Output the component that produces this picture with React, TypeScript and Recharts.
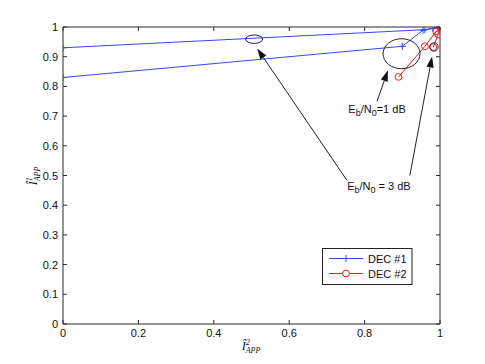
import React from 'react';
import {
  LineChart, Line, XAxis, YAxis, ReferenceLine, ReferenceDot,
} from 'recharts';

// EXIT trajectories (x = I2_APP, y = I1_APP)
const DEC1_1DB_X = [0, 0.9, 0.955, 1];
const DEC1_1DB_Y = [0.83, 0.935, 0.989, 1];
const DEC1_3DB_X = [0, 0.96, 0.981, 1];
const DEC1_3DB_Y = [0.93, 0.991, 0.995, 1];
const DEC2_1DB_X = [0.89, 0.96, 0.99, 1];
const DEC2_1DB_Y = [0.832, 0.935, 0.985, 1];
const DEC2_3DB_X = [0.982, 0.995, 1];
const DEC2_3DB_Y = [0.932, 0.975, 1];

const X_TICKS = [0, 0.2, 0.4, 0.6, 0.8, 1];
const Y_TICKS = [0, 0.1, 0.2, 0.3, 0.4, 0.5, 0.6, 0.7, 0.8, 0.9, 1];

const LEGEND_NAMES = ['DEC #1', 'DEC #2'];

const BLUE = '#2f4aff';
const RED = '#ff1a1a';
const AXIS = '#2b2b2b';
const FONT = '"Liberation Sans", Arial, sans-serif';
const SERIF = '"Liberation Serif", "Times New Roman", serif';

const toPoints = (xs: number[], ys: number[]) => xs.map((x, i) => ({ x, y: ys[i] }));

const plus = (p: any) => (
  <g key={`p-${p.index}`}>
    <line x1={p.cx - 3.5} y1={p.cy} x2={p.cx + 3.5} y2={p.cy} stroke={BLUE} strokeWidth={1} />
    <line x1={p.cx} y1={p.cy - 3.5} x2={p.cx} y2={p.cy + 3.5} stroke={BLUE} strokeWidth={1} />
  </g>
);

const ring = (p: any) => (
  <circle key={`o-${p.index}`} cx={p.cx} cy={p.cy} r={3.4} fill="none" stroke={RED} strokeWidth={1} />
);

const fmt = (v: number) => (v === 0 || v === 1 ? String(v) : v.toFixed(1));

const BottomTick = (p: any) => (
  <g>
    <line x1={p.x} y1={p.y} x2={p.x} y2={p.y - 4} stroke={AXIS} />
    <text x={p.x} y={p.y + 13} textAnchor="middle" fontSize={11} fontFamily={FONT} fill="#111">
      {fmt(p.payload.value)}
    </text>
  </g>
);
const LeftTick = (p: any) => (
  <g>
    <line x1={p.x} y1={p.y} x2={p.x + 4} y2={p.y} stroke={AXIS} />
    <text x={p.x - 5} y={p.y + 4} textAnchor="end" fontSize={11} fontFamily={FONT} fill="#111">
      {fmt(p.payload.value)}
    </text>
  </g>
);
const TopTick = (p: any) => <line x1={p.x} y1={p.y} x2={p.x} y2={p.y + 4} stroke={AXIS} />;
const RightTick = (p: any) => <line x1={p.x} y1={p.y} x2={p.x - 4} y2={p.y} stroke={AXIS} />;

// annotations: ellipses, arrows and the Eb/N0 notes
const ELLIPSES = [
  { x: 0.898, y: 0.91, rx: 18.5, ry: 15 },
  { x: 0.507, y: 0.959, rx: 8.5, ry: 4.2 },
  { x: 0.984, y: 0.933, rx: 4.2, ry: 4.2 },
];
const ARROWS = [
  { x1: 0.833, y1: 0.75, x2: 0.862, y2: 0.854 },
  { x1: 0.753, y1: 0.484, x2: 0.515, y2: 0.928 },
  { x1: 0.92, y1: 0.5, x2: 0.979, y2: 0.901 },
];
const NOTES = [
  { x: 0.833, y: 0.712, tail: '=1 dB' },
  { x: 0.838, y: 0.45, tail: ' = 3 dB' },
];

const arrowShape = (p: any) => {
  const { x1, y1, x2, y2 } = p;
  const a = Math.atan2(y2 - y1, x2 - x1);
  const len = 11;
  const w = 3.6;
  const bx = x2 - len * Math.cos(a);
  const by = y2 - len * Math.sin(a);
  const nx = -Math.sin(a) * w;
  const ny = Math.cos(a) * w;
  return (
    <g>
      <line x1={x1} y1={y1} x2={bx} y2={by} stroke="#222" strokeWidth={1} />
      <path d={`M${x2},${y2} L${bx + nx},${by + ny} L${bx - nx},${by - ny} Z`} fill="#111" />
    </g>
  );
};

const LegendBox = () => {
  const colors = [BLUE, RED];
  return (
    <svg width={91} height={37} style={{ display: 'block' }}>
      <rect x={0.5} y={0.5} width={89.5} height={36} fill="#fff" stroke="#222" strokeWidth={1} />
      {LEGEND_NAMES.map((name, i) => {
        const y = 10.5 + i * 15;
        return (
          <g key={name}>
            <line x1={7} y1={y} x2={41} y2={y} stroke={colors[i]} strokeWidth={1} />
            {i === 0 ? (
              <g>
                <line x1={20.5} y1={y} x2={27.5} y2={y} stroke={BLUE} />
                <line x1={24} y1={y - 3.5} x2={24} y2={y + 3.5} stroke={BLUE} />
              </g>
            ) : (
              <circle cx={24} cy={y} r={3.4} fill="#fff" stroke={RED} />
            )}
            <text x={46} y={y + 4} fontSize={11} fontFamily={FONT} fill="#111">{name}</text>
          </g>
        );
      })}
    </svg>
  );
};

export default function App() {
  return (
    <div style={{ position: 'absolute', left: 0, top: 0, width: 485, height: 364, background: '#fff' }}>
      <LineChart width={485} height={364} margin={{ top: 26, right: 44, bottom: 10, left: 23 }}>
        <XAxis dataKey="x" type="number" domain={[0, 1]} ticks={X_TICKS} height={30}
          tickSize={0} tickMargin={0} tickLine={false} tick={BottomTick} interval={0}
          axisLine={{ stroke: AXIS }} allowDataOverflow />
        <XAxis xAxisId="top" orientation="top" dataKey="x" type="number" domain={[0, 1]} ticks={X_TICKS}
          height={1} tickSize={0} tickMargin={0} tickLine={false} tick={TopTick} interval={0}
          axisLine={{ stroke: AXIS }} allowDataOverflow />
        <YAxis type="number" domain={[0, 1]} ticks={Y_TICKS} width={40} interval={0}
          tickSize={0} tickMargin={0} tickLine={false} tick={LeftTick}
          axisLine={{ stroke: AXIS }} allowDataOverflow />
        <YAxis yAxisId="right" orientation="right" type="number" domain={[0, 1]} ticks={Y_TICKS} width={1}
          tickSize={0} tickMargin={0} tickLine={false} tick={RightTick} interval={0}
          axisLine={{ stroke: AXIS }} allowDataOverflow />

        <Line data={toPoints(DEC1_1DB_X, DEC1_1DB_Y)} dataKey="y" stroke={BLUE} strokeWidth={1}
          dot={plus} activeDot={false} isAnimationActive={false} legendType="none" />
        <Line data={toPoints(DEC1_3DB_X, DEC1_3DB_Y)} dataKey="y" stroke={BLUE} strokeWidth={1}
          dot={plus} activeDot={false} isAnimationActive={false} legendType="none" />
        <Line data={toPoints(DEC2_1DB_X, DEC2_1DB_Y)} dataKey="y" stroke={RED} strokeWidth={1}
          dot={ring} activeDot={false} isAnimationActive={false} legendType="none" />
        <Line data={toPoints(DEC2_3DB_X, DEC2_3DB_Y)} dataKey="y" stroke={RED} strokeWidth={1}
          dot={ring} activeDot={false} isAnimationActive={false} legendType="none" />

        {ELLIPSES.map((e, i) => (
          <ReferenceDot key={`e${i}`} x={e.x} y={e.y} r={1} ifOverflow="visible"
            shape={(p: any) => (
              <ellipse cx={p.cx} cy={p.cy} rx={e.rx} ry={e.ry} fill="none" stroke="#222" strokeWidth={1} />
            )} />
        ))}
        {ARROWS.map((a, i) => (
          <ReferenceLine key={`a${i}`} segment={[{ x: a.x1, y: a.y1 }, { x: a.x2, y: a.y2 }]}
            ifOverflow="visible" shape={arrowShape} />
        ))}
        {NOTES.map((n, i) => (
          <ReferenceDot key={`n${i}`} x={n.x} y={n.y} r={1} ifOverflow="visible"
            shape={(p: any) => (
              <text x={p.cx} y={p.cy} textAnchor="middle" fontSize={11} fontFamily={FONT} fill="#111">
                E<tspan dy={3} fontSize={9}>b</tspan>
                <tspan dy={-3}>/N</tspan>
                <tspan dy={3} fontSize={9}>0</tspan>
                <tspan dy={-3}>{n.tail}</tspan>
              </text>
            )} />
        ))}

        <text x={251} y={350} textAnchor="middle" fontFamily={SERIF} fontStyle="italic" fontSize={12} fill="#111">
          Î<tspan dy={-5} fontSize={8}>2</tspan>
          <tspan dy={8} dx={-4} fontSize={8}>APP</tspan>
        </text>
        <text transform="translate(37,176) rotate(-90)" textAnchor="middle" fontFamily={SERIF}
          fontStyle="italic" fontSize={12} fill="#111">
          Î<tspan dy={-5} fontSize={8}>1</tspan>
          <tspan dy={8} dx={-4} fontSize={8}>APP</tspan>
        </text>
      </LineChart>
      <div style={{ position: 'absolute', left: 322, top: 248 }}>
        <LegendBox />
      </div>
    </div>
  );
}
